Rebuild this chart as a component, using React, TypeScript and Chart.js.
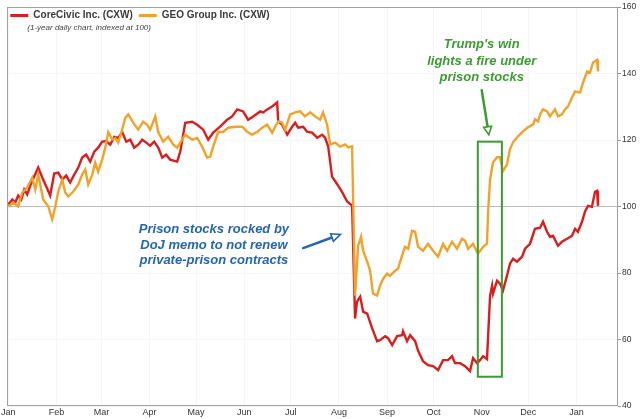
import React, { useEffect, useRef } from "react";
import { Chart, registerables } from "chart.js";

Chart.register(...registerables);

// x = day offset from Jan 1 2016, values indexed at 100
const cxwDays = [0, 2.6, 4.5, 6.4, 8.4, 10.3, 12.2, 14.2, 16.7, 19.3, 21.9, 24.5, 27.0, 29.6, 32.2, 34.8, 37.3, 39.9, 42.5, 45.1, 47.6, 50.2, 52.8, 55.4, 57.9, 60.5, 63.1, 65.7, 68.3, 70.8, 73.4, 76.0, 78.6, 81.1, 83.7, 86.3, 88.9, 91.4, 94.0, 96.6, 99.2, 101.7, 104.3, 108.8, 110.8, 114.0, 118.5, 121.7, 125.6, 128.8, 132.0, 136.5, 141.0, 144.2, 147.5, 151.3, 154.5, 157.8, 162.3, 164.2, 166.8, 170.0, 173.2, 173.9, 176.4, 179.7, 182.9, 184.8, 186.7, 190.0, 192.5, 195.7, 199.0, 202.2, 204.1, 206.1, 208.6, 211.9, 215.1, 218.3, 221.5, 223.4, 224.7, 226.7, 228.6, 231.2, 234.4, 237.6, 239.5, 242.8, 244.7, 247.3, 250.5, 253.7, 254.3, 256.9, 258.9, 262.1, 264.1, 267.2, 270.4, 273.7, 276.9, 280.1, 283.3, 285.9, 287.8, 291.1, 294.3, 297.5, 299.4, 302.0, 303.9, 305.9, 308.4, 310.4, 311.7, 312.3, 314.9, 316.8, 318.7, 321.3, 323.2, 325.2, 327.7, 331.0, 332.9, 336.1, 339.3, 342.6, 344.5, 347.1, 349.0, 350.9, 354.2, 356.7, 360.0, 363.2, 365.1, 367.0, 369.6, 371.5, 373.5, 376.0, 378.0, 379.3, 379.9];
const cxwValues = [100.6, 102.1, 101.2, 103.3, 102.1, 105.1, 103.6, 106.3, 109.0, 111.7, 108.7, 106.0, 103.3, 109.9, 110.2, 108.1, 109.3, 107.2, 109.6, 111.7, 114.7, 115.6, 113.5, 116.5, 117.7, 119.5, 119.7, 118.6, 120.9, 120.6, 122.4, 119.5, 120.1, 117.7, 118.6, 120.1, 119.2, 118.3, 119.5, 117.7, 114.7, 115.6, 114.1, 113.5, 116.5, 125.2, 125.5, 124.6, 123.1, 120.1, 122.2, 124.0, 126.1, 127.1, 129.2, 128.6, 126.1, 127.1, 128.6, 128.3, 129.2, 130.1, 131.3, 125.6, 124.6, 121.6, 124.0, 125.2, 123.7, 124.0, 122.5, 122.2, 120.7, 121.6, 120.7, 118.0, 109.0, 106.7, 104.3, 101.5, 100.3, 66.3, 71.4, 72.9, 68.4, 67.8, 63.4, 59.5, 59.8, 61.0, 60.4, 58.3, 61.0, 61.3, 62.5, 59.5, 61.3, 59.5, 56.5, 53.5, 52.3, 52.0, 50.8, 53.8, 53.8, 55.0, 52.9, 52.9, 52.0, 50.5, 54.4, 52.9, 53.8, 55.0, 54.1, 73.2, 76.2, 73.8, 77.7, 76.8, 74.7, 79.2, 82.8, 84.3, 83.4, 84.9, 87.3, 88.8, 93.3, 93.6, 95.4, 92.4, 90.9, 91.2, 88.2, 89.4, 90.3, 91.2, 93.3, 92.4, 95.4, 98.4, 100.2, 99.9, 104.4, 104.7, 100.2];

const geoDays = [0, 3.2, 6.4, 9.0, 12.2, 15.5, 17.4, 19.3, 22.5, 25.8, 28.3, 30.3, 32.2, 34.8, 36.7, 38.6, 41.9, 45.1, 47.6, 49.6, 51.5, 54.1, 56.0, 57.9, 60.5, 62.5, 64.4, 67.0, 68.9, 70.8, 73.4, 75.3, 77.3, 80.5, 83.7, 86.9, 89.5, 91.4, 94.7, 96.6, 99.8, 103.0, 106.3, 108.8, 112.0, 114.0, 118.5, 121.7, 124.9, 128.1, 130.1, 132.0, 135.2, 138.4, 141.7, 146.2, 150.7, 153.9, 157.1, 160.3, 163.6, 166.8, 170.0, 171.9, 173.9, 176.4, 178.4, 181.6, 184.8, 188.0, 191.2, 194.5, 197.7, 200.9, 202.8, 205.4, 207.4, 210.6, 213.8, 217.0, 219.0, 221.5, 223.4, 225.4, 227.3, 228.6, 231.2, 233.1, 235.0, 237.6, 239.5, 241.5, 244.0, 246.0, 249.2, 251.1, 253.7, 255.6, 257.6, 260.1, 262.1, 264.0, 267.2, 270.4, 273.7, 276.9, 280.1, 282.7, 285.9, 289.1, 292.3, 294.3, 296.2, 299.4, 302.6, 305.9, 308.4, 309.1, 310.4, 312.3, 314.9, 316.8, 318.7, 321.3, 323.2, 325.2, 328.4, 331.6, 334.8, 338.1, 339.3, 341.3, 342.6, 344.5, 347.1, 349.0, 352.2, 354.2, 356.7, 358.7, 360.6, 363.2, 365.1, 368.4, 370.3, 372.9, 374.8, 376.7, 379.3, 379.9];
const geoValues = [100, 101.2, 100, 104.2, 105.7, 108.7, 105.1, 109.6, 102.1, 100, 96.1, 100, 104.5, 108.1, 104.2, 103.0, 104.5, 106.6, 109.6, 111.1, 106.6, 109.6, 113.2, 110.5, 114.1, 117.7, 122.4, 120.1, 120.6, 119.2, 123.1, 126.6, 127.7, 125.2, 123.1, 125.5, 124.6, 123.1, 127.1, 122.4, 119.5, 121.0, 118.6, 117.7, 120.1, 121.6, 120.1, 120.6, 118.0, 114.7, 115.0, 118.0, 122.4, 122.4, 123.7, 124.0, 124.0, 122.5, 121.6, 122.4, 123.7, 124.6, 122.2, 124.0, 125.6, 125.2, 123.1, 127.7, 128.3, 128.6, 127.1, 128.3, 127.1, 126.1, 128.3, 124.6, 118.7, 119.2, 118.0, 118.7, 117.8, 118.1, 73.2, 88.2, 90.9, 86.7, 83.4, 80.7, 73.8, 73.2, 76.2, 78.3, 79.8, 79.2, 80.7, 81.3, 85.2, 87.9, 87.3, 92.7, 92.4, 87.9, 86.7, 88.8, 86.7, 84.9, 88.8, 86.7, 89.4, 87.3, 90.3, 89.7, 87.3, 88.8, 85.8, 87.9, 88.8, 98.2, 108.2, 113.3, 114.8, 114.8, 110.6, 112.7, 117.2, 119.3, 121.1, 122.6, 123.8, 124.7, 126.2, 125.6, 127.7, 129.2, 128.6, 127.1, 129.2, 127.1, 127.7, 129.2, 130.1, 132.8, 134.6, 134.3, 137.3, 140.6, 140.3, 143.3, 144.1, 140.6];

const monthTickDays = [0, 31, 60, 91, 121, 152, 182, 213, 244, 274, 305, 335, 366];
const monthLabels = ["Jan", "Feb", "Mar", "Apr", "May", "Jun", "Jul", "Aug", "Sep", "Oct", "Nov", "Dec", "Jan"];
const yTicks = [40, 60, 80, 100, 120, 140, 160];

const seriesNames = ["CoreCivic Inc. (CXW)", "GEO Group Inc. (CXW)"];
const subtitle = "(1-year daily chart, indexed at 100)";
const blueNoteLines = ["Prison stocks rocked by", "DoJ memo to not renew", "private-prison contracts"];
const greenNoteLines = ["Trump's win", "lights a fire under", "prison stocks"];

const RED = "#d81e1e";
const ORANGE = "#f2a22a";
const BLUE = "#2466b3";
const GREEN = "#3c9c32";
const FONT = '"Liberation Sans", Arial, sans-serif';

function drawArrow(ctx: CanvasRenderingContext2D, x1: number, y1: number, x2: number, y2: number, color: string, lw: number, headLen: number, headW: number) {
  const ang = Math.atan2(y2 - y1, x2 - x1);
  const bx = x2 - Math.cos(ang) * headLen;
  const by = y2 - Math.sin(ang) * headLen;
  ctx.strokeStyle = color;
  ctx.lineWidth = lw;
  ctx.lineCap = "round";
  ctx.beginPath();
  ctx.moveTo(x1, y1);
  ctx.lineTo(bx, by);
  ctx.stroke();
  const px = -Math.sin(ang) * headW / 2;
  const py = Math.cos(ang) * headW / 2;
  ctx.beginPath();
  ctx.moveTo(x2, y2);
  ctx.lineTo(bx + px, by + py);
  ctx.lineTo(bx - px, by - py);
  ctx.closePath();
  ctx.fillStyle = "#ffffff";
  ctx.fill();
  ctx.lineWidth = 1.6;
  ctx.stroke();
}

const annotPlugin = {
  id: "annot",
  afterDatasetsDraw(chart: any) {
    const { ctx, chartArea: a, scales } = chart;
    const x = scales.x;
    const y = scales.y;
    ctx.save();
    // frame
    ctx.strokeStyle = "#a0a0a0";
    ctx.lineWidth = 1;
    ctx.strokeRect(Math.round(a.left) + 0.5, Math.round(a.top) + 0.5, Math.round(a.right - a.left) - 1, Math.round(a.bottom - a.top) - 1);

    // green box
    const bx1 = x.getPixelForValue(302.5), bx2 = x.getPixelForValue(318);
    const by1 = y.getPixelForValue(119.5), by2 = y.getPixelForValue(48.8);
    ctx.strokeStyle = GREEN;
    ctx.lineWidth = 2;
    ctx.strokeRect(bx1, by1, bx2 - bx1, by2 - by1);

    // blue note
    ctx.fillStyle = BLUE;
    ctx.font = `italic bold 13px ${FONT}`;
    ctx.textAlign = "center";
    ctx.textBaseline = "middle";
    const bcx = x.getPixelForValue(132.5);
    const bcy = y.getPixelForValue(93);
    blueNoteLines.forEach((t, i) => ctx.fillText(t, bcx, bcy + i * 15.5));
    drawArrow(ctx, x.getPixelForValue(190), y.getPixelForValue(87.5), x.getPixelForValue(214), y.getPixelForValue(91.6), BLUE, 2.5, 9, 8);

    // green note
    ctx.fillStyle = GREEN;
    const gcx = x.getPixelForValue(305);
    const gcy = y.getPixelForValue(148.6);
    greenNoteLines.forEach((t, i) => ctx.fillText(t, gcx, gcy + i * 16.5));
    drawArrow(ctx, x.getPixelForValue(305), y.getPixelForValue(135), x.getPixelForValue(309.6), y.getPixelForValue(121.6), GREEN, 2.5, 8, 8);

    // legend
    const lx = a.left, ly = a.top;
    ctx.textAlign = "left";
    ctx.font = `bold 10px ${FONT}`;
    let cx = lx + 3;
    const cy = ly + 8.5;
    [RED, ORANGE].forEach((c, i) => {
      ctx.strokeStyle = c;
      ctx.lineWidth = 3;
      ctx.lineCap = "butt";
      ctx.beginPath();
      ctx.moveTo(cx, cy);
      ctx.lineTo(cx + 18, cy);
      ctx.stroke();
      cx += 23;
      ctx.fillStyle = "#3a3a3a";
      ctx.fillText(seriesNames[i], cx, cy);
      cx += ctx.measureText(seriesNames[i]).width + 6;
    });
    ctx.font = `italic 8px ${FONT}`;
    ctx.fillStyle = "#444";
    ctx.fillText(subtitle, lx + 20, ly + 21);
    ctx.restore();
  },
};

export default function App() {
  const ref = useRef<HTMLCanvasElement>(null);
  useEffect(() => {
    if (!ref.current) return;
    const chart = new Chart(ref.current, {
      type: "line",
      data: {
        datasets: [
          {
            label: seriesNames[0],
            data: cxwDays.map((d, i) => ({ x: d, y: cxwValues[i] })),
            borderColor: RED,
            borderWidth: 2.4,
            pointRadius: 0,
            tension: 0,
            order: 1,
          },
          {
            label: seriesNames[1],
            data: geoDays.map((d, i) => ({ x: d, y: geoValues[i] })),
            borderColor: ORANGE,
            borderWidth: 2.4,
            pointRadius: 0,
            tension: 0,
            order: 0,
          },
        ],
      },
      options: {
        responsive: false,
        animation: false,
        devicePixelRatio: 1,
        layout: { padding: { left: 7, top: 7, right: 0, bottom: 0 } },
        plugins: { legend: { display: false }, tooltip: { enabled: false }, title: { display: false } },
        scales: {
          x: {
            type: "linear",
            min: -0.6,
            max: 392.8,
            afterBuildTicks: (s: any) => {
              s.ticks = monthTickDays.map((v) => ({ value: v }));
            },
            afterFit: (s: any) => {
              s.height = 13;
            },
            ticks: {
              autoSkip: false,
              maxRotation: 0,
              padding: 1,
              color: "#333",
              font: { family: FONT, size: 9 },
              callback: (_v: any, i: number) => monthLabels[i],
            },
            grid: { color: "#f6f6f6", drawTicks: false },
            border: { display: false },
          },
          y: {
            position: "right",
            min: 40,
            max: 160,
            afterBuildTicks: (s: any) => {
              s.ticks = yTicks.map((v) => ({ value: v }));
            },
            afterFit: (s: any) => {
              s.width = 22;
            },
            ticks: {
              padding: 1,
              color: "#333",
              font: { family: FONT, size: 8.5 },
            },
            grid: {
              color: (c: any) => (c.tick && c.tick.value === 100 ? "#bdbdbd" : "#f6f6f6"),
              tickColor: "#999",
              tickLength: 3,
            },
            border: { display: false },
          },
        },
      },
      plugins: [annotPlugin],
    });
    return () => chart.destroy();
  }, []);
  return (
    <div style={{ position: "absolute", left: 0, top: 0, width: 640, height: 419, background: "#fff" }}>
      <canvas ref={ref} width={640} height={419} style={{ display: "block" }} />
    </div>
  );
}
